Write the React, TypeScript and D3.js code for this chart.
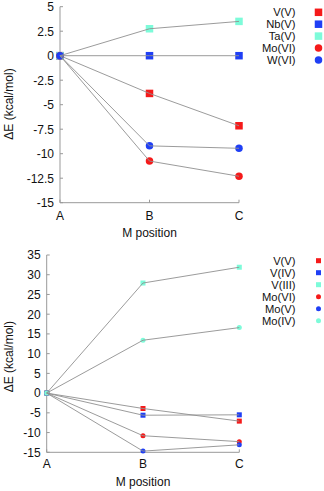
import React from "react";
import * as d3 from "d3";

const positions = ["A", "B", "C"];

// Top chart series
const topNames = ["V(V)", "Nb(V)", "Ta(V)", "Mo(VI)", "W(VI)"];
const topVV = [0, -3.85, -7.15];
const topNbV = [0, 0, 0];
const topTaV = [0, 2.75, 3.5];
const topMoVI = [0, -10.75, -12.3];
const topWVI = [0, -9.2, -9.45];
const topTicks = [5, 2.5, 0, -2.5, -5, -7.5, -10, -12.5, -15];

// Bottom chart series
const botNames = ["V(V)", "V(IV)", "V(III)", "Mo(VI)", "Mo(V)", "Mo(IV)"];
const botVV = [0, -3.9, -7.1];
const botVIV = [0, -5.6, -5.5];
const botVIII = [0, 27.9, 31.9];
const botMoVI = [0, -10.8, -12.3];
const botMoV = [0, -14.7, -13.1];
const botMoIV = [0, 13.4, 16.6];
const botTicks = [35, 30, 25, 20, 15, 10, 5, 0, -5, -10, -15];

const RED = "#f51a1a";
const BLUE = "#1f3ff5";
const CYAN = "#7dfbd9";
const LINE = "#909090";
const AXIS = "#999999";
const FONT = "Liberation Sans, Arial, sans-serif";
const FS = 12;
const LEG_FS = 11.2;

type Series = { name: string; values: number[]; color: string; shape: "square" | "circle" };

const topSeries: Series[] = [
  { name: topNames[0], values: topVV, color: RED, shape: "square" },
  { name: topNames[1], values: topNbV, color: BLUE, shape: "square" },
  { name: topNames[2], values: topTaV, color: CYAN, shape: "square" },
  { name: topNames[3], values: topMoVI, color: RED, shape: "circle" },
  { name: topNames[4], values: topWVI, color: BLUE, shape: "circle" },
];

const botSeries: Series[] = [
  { name: botNames[0], values: botVV, color: RED, shape: "square" },
  { name: botNames[1], values: botVIV, color: BLUE, shape: "square" },
  { name: botNames[2], values: botVIII, color: CYAN, shape: "square" },
  { name: botNames[3], values: botMoVI, color: RED, shape: "circle" },
  { name: botNames[4], values: botMoV, color: BLUE, shape: "circle" },
  { name: botNames[5], values: botMoIV, color: CYAN, shape: "circle" },
];

type PanelProps = {
  series: Series[];
  ticks: number[];
  domain: [number, number];
  x0: number;
  x1: number;
  yTop: number;
  yBot: number;
  markerSize: number;
  legendY0: number;
  legendStep: number;
  xLabelY: number;
  titleY: number;
  yLabelCenter: number;
};

function Marker({ x, y, s, shape, color }: { x: number; y: number; s: number; shape: string; color: string }) {
  if (shape === "square") {
    return <rect x={x - s / 2} y={y - s / 2} width={s} height={s} fill={color} />;
  }
  return <circle cx={x} cy={y} r={s / 2} fill={color} />;
}

function Panel(p: PanelProps) {
  const x = d3.scalePoint<string>().domain(positions).range([p.x0, p.x1]);
  const y = d3.scaleLinear().domain(p.domain).range([p.yBot, p.yTop]);
  const line = d3
    .line<number>()
    .x((_, i) => x(positions[i]) as number)
    .y((v) => y(v));
  return (
    <g>
      <line x1={p.x0} x2={p.x0} y1={p.yTop} y2={p.yBot} stroke={AXIS} strokeWidth={1} />
      <line x1={p.x0} x2={p.x1} y1={p.yBot} y2={p.yBot} stroke={AXIS} strokeWidth={1} />
      {p.ticks.map((t) => (
        <g key={t}>
          <line x1={p.x0} x2={p.x0 + 3} y1={y(t)} y2={y(t)} stroke={AXIS} strokeWidth={1} />
          <text x={p.x0 - 6} y={y(t)} dy="0.36em" textAnchor="end" fontFamily={FONT} fontSize={FS} fill="#111">
            {t}
          </text>
        </g>
      ))}
      {positions.map((c) => (
        <g key={c}>
          <line x1={x(c)} x2={x(c)} y1={p.yBot} y2={p.yBot - 3} stroke={AXIS} strokeWidth={1} />
          <text x={x(c)} y={p.xLabelY} textAnchor="middle" fontFamily={FONT} fontSize={FS} fill="#111">
            {c}
          </text>
        </g>
      ))}
      <text x={(p.x0 + p.x1) / 2} y={p.titleY} textAnchor="middle" fontFamily={FONT} fontSize={FS} fill="#111">
        M position
      </text>
      <text
        transform={`translate(12.5,${p.yLabelCenter}) rotate(-90)`}
        textAnchor="middle"
        fontFamily={FONT}
        fontSize={FS}
        fill="#111"
      >
        ΔE (kcal/mol)
      </text>
      {p.series.map((s) =>
        s.values.map((v, i) => (
          <Marker
            key={s.name + i}
            x={x(positions[i]) as number}
            y={y(v)}
            s={p.markerSize}
            shape={s.shape}
            color={s.color}
          />
        ))
      )}
      {p.series.map((s) => (
        <path key={s.name} d={line(s.values) || ""} fill="none" stroke={LINE} strokeWidth={1} strokeOpacity={0.9} />
      ))}
      {p.series.map((s, i) => {
        const ly = p.legendY0 + i * p.legendStep;
        return (
          <g key={"lg" + s.name}>
            <text x={295.5} y={ly} dy="0.36em" textAnchor="end" fontFamily={FONT} fontSize={LEG_FS} fill="#111">
              {s.name}
            </text>
            <Marker x={318.5} y={ly} s={p.markerSize} shape={s.shape} color={s.color} />
          </g>
        );
      })}
    </g>
  );
}

export default function App() {
  return (
    <svg width={324} height={491} style={{ position: "absolute", left: 0, top: 0, background: "#fff" }}>
      <rect width={324} height={491} fill="#fff" />
      <Panel
        series={topSeries}
        ticks={topTicks}
        domain={[-15, 5]}
        x0={60}
        x1={239}
        yTop={6.7}
        yBot={202.7}
        markerSize={7.5}
        legendY0={12.3}
        legendStep={11.9}
        xLabelY={219.5}
        titleY={236.5}
        yLabelCenter={104}
      />
      <Panel
        series={botSeries}
        ticks={botTicks}
        domain={[-15, 35]}
        x0={46.7}
        x1={239.3}
        yTop={255}
        yBot={452.3}
        markerSize={5}
        legendY0={260.7}
        legendStep={12}
        xLabelY={468}
        titleY={486}
        yLabelCenter={356.7}
      />
    </svg>
  );
}
